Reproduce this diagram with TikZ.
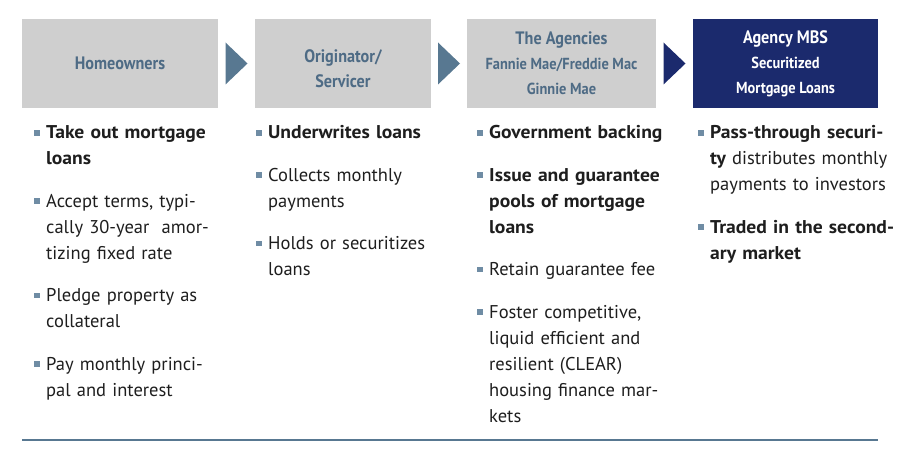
\documentclass[tikz,border=0pt]{standalone}
\usepackage{fontspec}
\setmainfont{PT Sans}[BoldFeatures={FakeStretch=1.06}]
\newfontfamily\hdrfont{PT Sans}[FakeStretch=0.9]
\usetikzlibrary{positioning,calc}

\definecolor{boxgray}{HTML}{CFCFCF}
\definecolor{slate}{HTML}{4E6B85}
\definecolor{arrowslate}{HTML}{587891}
\definecolor{navy}{HTML}{1B2A6D}
\definecolor{bodytext}{HTML}{1E1E1E}
\definecolor{markc}{HTML}{6F8CA4}

% square bullet hanging left of the first line
\newcommand{\sqb}{\llap{\textcolor{markc}{\rule[3.4pt]{5.5pt}{5.5pt}}\hspace{6.5pt}}}

\begin{document}
\begin{tikzpicture}[x=1pt,y=-1pt,node distance=16pt,
  stage node/.style={fill=boxgray,minimum height=89pt,inner sep=0pt,align=center,
    text=slate,font=\hdrfont\bfseries\fontsize{18}{25}\selectfont},
  flow arrow/.style={fill=arrowslate},
  item text/.style={anchor=north west,inner sep=0pt,text width=190pt,align=left,
    text=bodytext,font=\fontsize{18.5}{26}\selectfont,
    execute at begin node=\strut,execute at end node=\strut}]

\useasboundingbox (0,0) rectangle (900,460);

% stages
\node[stage node,minimum width=196pt] (home) at (120,63.5) {Homeowners};
\node[stage node,minimum width=176pt] (orig) at (343,63.5) {\rule{0pt}{23pt}Originator/\\Servicer};
\node[stage node,minimum width=189pt] (agen) at (561.5,63.5)
  {The Agencies\\{\fontsize{16}{26}\selectfont Fannie Mae/Freddie Mac}\\{\fontsize{16}{26}\selectfont Ginnie Mae}};
\node[stage node,minimum width=185pt,fill=navy,text=white] (mbs) at (785.5,63.5)
  {Agency MBS\\{\fontsize{16}{26}\selectfont Securitized}\\{\fontsize{16}{26}\selectfont Mortgage Loans}};

% chevrons between stages
\fill[flow arrow] ($(home.east)!.5!(orig.west)$) ++(-11,-21) -- ++(22,21) -- ++(-22,21) -- cycle;
\fill[flow arrow] ($(orig.east)!.5!(agen.west)$) ++(-11,-21) -- ++(22,21) -- ++(-22,21) -- cycle;
\fill[flow arrow,fill=navy] ($(agen.east)!.5!(mbs.west)$) ++(-11,-21) -- ++(22,21) -- ++(-22,21) -- cycle;

% homeowners
\node[item text] (h1) at (46,120.5) {\sqb{\bfseries Take out mortgage\\loans}};
\node[item text,below=of h1] (h2) {\sqb Accept terms, typi-\\cally 30-year\ \ amor-\\tizing fixed rate};
\node[item text,below=of h2] (h3) {\sqb Pledge property as\\collateral};
\node[item text,below=of h3] (h4) {\sqb Pay monthly princi-\\pal and interest};

% originator
\node[item text] (o1) at (268,120.5) {\sqb{\bfseries Underwrites loans}};
\node[item text,below=of o1] (o2) {\sqb Collects monthly\\payments};
\node[item text,below=of o2] (o3) {\sqb Holds or securitizes\\loans};

% agencies
\node[item text] (a1) at (489,120.5) {\sqb{\bfseries Government backing}};
\node[item text,below=of a1] (a2) {\sqb{\bfseries Issue and guarantee\\pools of mortgage\\loans}};
\node[item text,below=of a2] (a3) {\sqb Retain guarantee fee};
\node[item text,below=of a3] (a4) {\sqb Foster competitive,\\liquid efficient and\\resilient (CLEAR)\\housing finance mar-\\kets};

% agency mbs
\node[item text] (m1) at (710,120.5) {\sqb{\bfseries Pass-through securi-\\ty} distributes monthly\\payments to investors};
\node[item text,below=of m1] (m2) {\sqb{\bfseries Traded in the second-\\ary market}};

\draw[line width=2pt,arrowslate] (22,440) -- (878,440);
\end{tikzpicture}
\end{document}
